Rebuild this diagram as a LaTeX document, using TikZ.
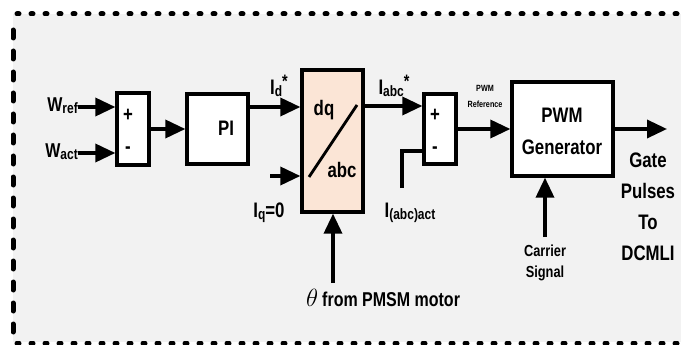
\documentclass[tikz,border=0pt]{standalone}
\usepackage{fontspec}
\setmainfont{Liberation Sans}[FakeStretch=0.8]
\usetikzlibrary{arrows.meta}
\definecolor{bggray}{HTML}{F2F2F2}
\definecolor{peach}{HTML}{FBE5D6}
\newcommand\sbx[1]{\raisebox{-2pt}{\fontsize{15}{15}\selectfont #1}}
\newcommand\spx{\raisebox{7pt}{\fontsize{18}{18}\selectfont *}}
\begin{document}
\begin{tikzpicture}[x=1pt,y=-1pt,
  blk/.style={draw,line width=3.3pt,inner sep=0pt},
  arr/.style={line width=3.5pt,-{Triangle[length=20pt,width=18pt]}},
  wire/.style={line width=3.5pt},
  lbl/.style={inner sep=0pt,font=\fontsize{21}{22}\selectfont\bfseries},
  mid/.style={inner sep=0pt,font=\fontsize{16}{21}\selectfont\bfseries,align=center},
  tiny/.style={inner sep=0pt,font=\fontsize{9}{16}\selectfont\bfseries,align=center},
  big/.style={inner sep=0pt,font=\fontsize{21}{31}\selectfont\bfseries,align=center},
  brd/.style={line width=5pt,line cap=round}
]
\useasboundingbox (0,0) rectangle (681,345);
\fill[bggray] (13,14) rectangle (690,342);
\draw[brd,dash pattern=on 2pt off 12pt] (17,14) -- (690,14);
\draw[brd,dash pattern=on 2pt off 12pt] (17,343) -- (690,343);
\draw[brd,dash pattern=on 8pt off 13pt] (13,30) -- (13,335);

% blocks
\node[blk,fill=white,minimum width=32pt,minimum height=72pt] (s1) at (133,129) {};
\node[blk,fill=white,minimum width=61pt,minimum height=70pt] (pi) at (217.5,129) {};
\node[lbl] (pitxt) at (226,128) {PI};
\node[blk,fill=peach,minimum width=61pt,minimum height=142pt] (dq) at (332.5,141) {};
\node[blk,fill=white,minimum width=32pt,minimum height=70pt] (s2) at (440,129) {};
\node[blk,fill=white,minimum width=101pt,minimum height=94pt] (pwm) at (562.5,129) {};

% block texts
\node[lbl] (p1) at (128,115) {+};
\node[lbl] (m1) at (128,150) {-};
\node[lbl] (p2) at (435,115) {+};
\node[lbl] (m2) at (435,150) {-};
\node[lbl] (dqt) at (324,110) {dq};
\node[lbl] (abct) at (342,170) {abc};
\coordinate (sl1) at (309,177);
\coordinate (sl2) at (357,105);
\draw[wire,line width=2.8pt] (sl1) -- (sl2);
\node[lbl,font=\fontsize{21}{32}\selectfont\bfseries,align=center] (pwmt) at (562,131) {PWM\\Generator};

% inputs
\node[lbl,font=\fontsize{20}{22}\selectfont\bfseries,anchor=east] (wref) at (78,106) {W\sbx{ref}};
\node[lbl,font=\fontsize{20}{22}\selectfont\bfseries,anchor=east] (wact) at (78,152) {W\sbx{act}};
\draw[arr] ([yshift=-1pt]wref.east) -- ([yshift=-1pt]wref.east -| s1.west);
\draw[arr] ([yshift=-1pt]wact.east) -- ([yshift=-1pt]wact.east -| s1.west);
\draw[arr] (s1.east) -- (pi.west);
\draw[arr] ([yshift=22pt]pi.east) -- ([yshift=22pt]pi.east -| dq.west);
\node[lbl] (id) at (279,86) {I\sbx{d}\spx};

\coordinate (iqs) at (270,176);
\draw[arr] (iqs) -- (iqs -| dq.west);
\node[lbl] (iq) at (269,213) {I\sbx{q}=0};

\coordinate (th) at (333,283);
\draw[arr] (th) -- (th |- dq.south);
\node[lbl,font=\fontsize{20}{22}\selectfont\bfseries,anchor=west] (tht) at (306,298) {\fontsize{24}{24}\selectfont$\theta$\,\fontsize{20}{22}\selectfont from PMSM motor};

\draw[arr] ([yshift=35pt]dq.east) -- ([yshift=35pt]dq.east -| s2.west);
\node[lbl] (iabc) at (394,86) {I\sbx{abc}\spx};

\coordinate (ia) at (402,188);
\draw[wire] (ia) |- ([yshift=-22pt]s2.west);
\node[lbl] (iact) at (410,213) {I\sbx{(abc)act}};

\draw[arr] (s2.east) -- (pwm.west);
\node[tiny] (pref) at (485,96) {PWM\\Reference};

\coordinate (out) at (667,129);
\draw[arr] (pwm.east) -- (out);
\node[big] (gate) at (648,207) {Gate\\Pulses\\To\\DCMLI};

\coordinate (car) at (545,237);
\draw[arr] (car) -- (car |- pwm.south);
\node[mid] (cart) at (545,263) {Carrier\\Signal};
\end{tikzpicture}
\end{document}
